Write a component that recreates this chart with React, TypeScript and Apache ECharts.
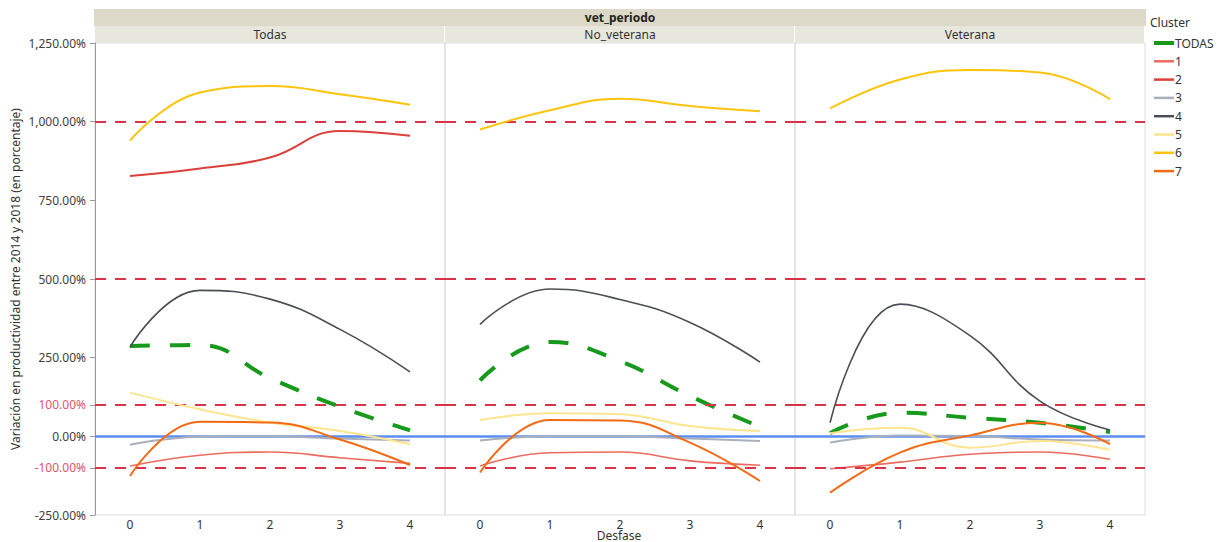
import React, { useEffect, useRef } from "react";
import * as echarts from "echarts";

const categories = ["0", "1", "2", "3", "4"];
const panels = ["Todas", "No_veterana", "Veterana"];
const clusters = ["TODAS", "1", "2", "3", "4", "5", "6", "7"];
const yTicks = [-250, -100, 0, 100, 250, 500, 750, 1000, 1250];
const dashedRefs = [1000, 500, 100, -100];
const zeroRef = [0];

// each array: [Todas, No_veterana, Veterana]
const clusterTODAS = [
  [287, 290, 185, 94, 19],
  [178, 300, 239, 128, 30],
  [10, 75, 59, 43, 14],
];
const cluster1 = [
  [-94, -60, -50, -68, -86],
  [-94, -52, -50, -78, -92],
  [-103, -82, -57, -50, -73],
];
const cluster2 = [[827, 851, 886, 970, 955], null, null];
const cluster3 = [
  [-27, -1, 0, -7, -13],
  [-13, 0, 0, -7, -15],
  [-20, 3, 1, -10, -13],
];
const cluster4 = [
  [284, 464, 436, 340, 205],
  [356, 468, 435, 362, 236],
  [43, 420, 320, 112, 20],
];
const cluster5 = [
  [139, 86, 44, 17, -25],
  [52, 73, 70, 33, 17],
  [10, 27, -36, -15, -43],
];
const cluster6 = [
  [940, 1093, 1113, 1087, 1054],
  [975, 1036, 1073, 1050, 1033],
  [1042, 1134, 1164, 1156, 1071],
];
const cluster7 = [
  [-126, 46, 44, -10, -91],
  [-115, 52, 50, -20, -142],
  [-179, -52, 3, 43, -25],
];

const clusterData = [clusterTODAS, cluster1, cluster2, cluster3, cluster4, cluster5, cluster6, cluster7];
const colors = ["#179a1c", "#ec6b5f", "#d9413a", "#a9b0bb", "#4b4f55", "#fde58f", "#fcc40c", "#f46a14"];
const widths = [4, 1.6, 2, 2, 1.6, 2, 2, 2];

const FONT = "Noto Sans";
const GRID_LEFT = [95, 445, 795];
const GRID_W = 350;
const GRID_TOP = 43;
const GRID_H = 472;
const refRed = "#d9334a";

export default function App() {
  const ref = useRef<HTMLDivElement>(null);
  useEffect(() => {
    if (!ref.current) return;
    const chart = echarts.init(ref.current, null, { renderer: "svg" });
    const grids = GRID_LEFT.map((l) => ({
      left: l,
      top: GRID_TOP,
      width: GRID_W,
      height: GRID_H,
      show: true,
      borderColor: "#dddddd",
      borderWidth: 1,
      containLabel: false,
      outerBoundsMode: "none",
    }));
    const xAxes = panels.map((p, i) => ({
      type: "category",
      gridIndex: i,
      data: categories,
      boundaryGap: true,
      axisLine: { show: true, lineStyle: { color: "#a0a0a0", width: 1 } },
      axisTick: { show: false },
      axisLabel: { color: "#333", fontSize: 12, fontFamily: FONT, margin: 3, lineHeight: 12 },
      splitLine: { show: false },
    }));
    const fmt = (v: any) =>
      Number(v).toLocaleString("en-US", { minimumFractionDigits: 2, maximumFractionDigits: 2 }) + "%";
    const yAxes = panels.map((p, i) => ({
      type: "value",
      gridIndex: i,
      min: -250,
      max: 1250,
      show: i === 0,
      axisLine: { show: i === 0, lineStyle: { color: "#9a9a9a" } },
      axisTick: { show: i === 0, length: 5, lineStyle: { color: "#9a9a9a" }, customValues: yTicks },
      axisLabel: {
        show: i === 0,
        customValues: yTicks,
        formatter: fmt,
        fontSize: 12,
        fontFamily: FONT,
        margin: 9,
        color: (v: any) => (Math.abs(Number(v)) === 100 ? "#e0566a" : "#404040"),
      },
      splitLine: { show: false },
      name: i === 0 ? "Variación en productividad entre 2014 y 2018 (en porcentaje)" : "",
      nameLocation: "middle",
      nameGap: 74,
      nameRotate: 90,
      nameTextStyle: { color: "#333", fontSize: 12, fontFamily: FONT },
    }));
    const series: any[] = [];
    panels.forEach((p, i) => {
      series.push({
        type: "line",
        name: "ref",
        xAxisIndex: i,
        yAxisIndex: i,
        data: [],
        z: 1,
        markLine: {
          silent: true,
          symbol: ["none", "none"],
          label: { show: false },
          animation: false,
          data: [
            ...dashedRefs.map((v) => ({ yAxis: v, lineStyle: { color: refRed, width: 2, type: [11, 9] } })),
            ...zeroRef.map((v) => ({ yAxis: v, lineStyle: { color: "#5b8ef2", width: 2.5, type: "solid" } })),
          ],
        },
      });
      clusters.forEach((c, k) => {
        const d = clusterData[k][i];
        if (!d) return;
        series.push({
          type: "line",
          name: c,
          xAxisIndex: i,
          yAxisIndex: i,
          data: d,
          smooth: 0.45,
          symbol: "none",
          z: 2 + k,
          color: colors[k],
          lineStyle: {
            color: colors[k],
            width: widths[k],
            type: k === 0 ? [20, 20] : "solid",
          },
        });
      });
    });
    const graphic: any[] = [
      { type: "rect", shape: { x: 94, y: 9, width: 1052, height: 17 }, style: { fill: "#dcd9c8" }, silent: true },
      {
        type: "text",
        x: 620,
        y: 17.5,
        style: { text: "vet_periodo", fill: "#222", font: `bold 12px "${FONT}"`, textAlign: "center", textVerticalAlign: "middle" },
      },
      ...panels.flatMap((p, i) => [
        {
          type: "rect",
          shape: { x: GRID_LEFT[i], y: 26, width: GRID_W - 1, height: 17 },
          style: { fill: "#e8e7de" },
          silent: true,
        },
        {
          type: "text",
          x: GRID_LEFT[i] + GRID_W / 2,
          y: 34.5,
          style: { text: p, fill: "#333", font: `12px "${FONT}"`, textAlign: "center", textVerticalAlign: "middle" },
        },
      ]),
      {
        type: "text",
        x: 619,
        y: 541,
        style: {
          text: "Desfase",
          fill: "#333",
          font: `12px "${FONT}"`,
          textAlign: "center",
          textVerticalAlign: "bottom",
        },
      },
      {
        type: "text",
        x: 1150,
        y: 22,
        style: { text: "Cluster", fill: "#333", font: `12px "${FONT}"`, textVerticalAlign: "middle" },
      },
    ];
    chart.setOption({
      animation: false,
      backgroundColor: "#ffffff",
      textStyle: { fontFamily: FONT },
      grid: grids,
      xAxis: xAxes,
      yAxis: yAxes,
      series,
      graphic,
      legend: {
        orient: "vertical",
        left: 1152,
        top: 37,
        padding: 0,
        itemWidth: 20,
        itemHeight: 12,
        itemGap: 6.3,
        selectedMode: false,
        textStyle: { color: "#333", fontSize: 12, fontFamily: FONT, padding: [0, 0, 0, -4], lineHeight: 12 },
        data: clusters.map((c, k) => ({
          name: c,
          itemStyle: { opacity: 0 },
          lineStyle: { color: colors[k], width: k === 0 ? 4 : 2.5, type: "solid" },
        })),
      },
    });
    return () => chart.dispose();
  }, []);
  return (
    <div
      ref={ref}
      style={{ position: "absolute", left: 0, top: 0, width: 1224, height: 542, background: "#fff" }}
    />
  );
}
